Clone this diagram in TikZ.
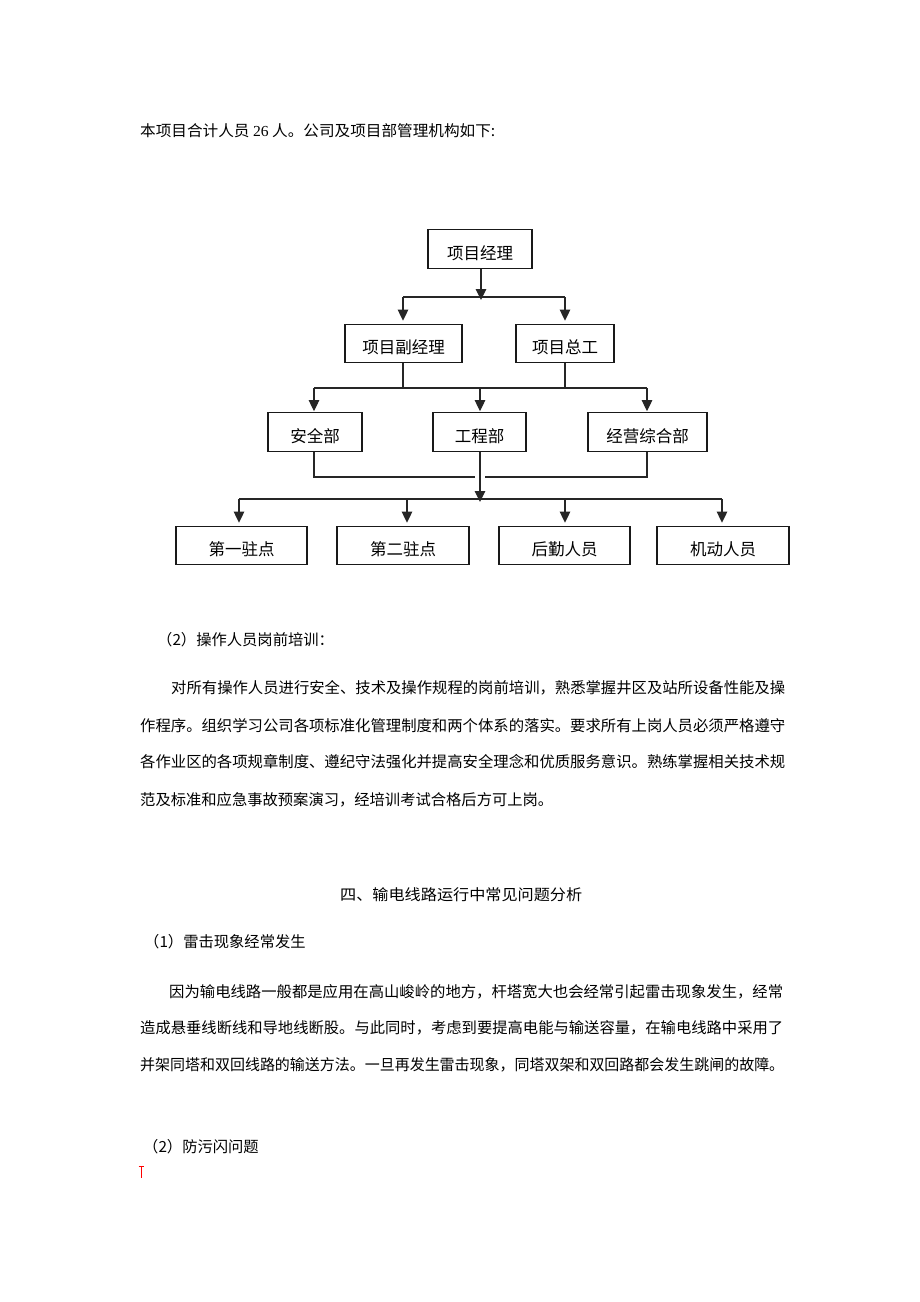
\documentclass[tikz,border=0pt]{standalone}
\usepackage{fontspec}
\usepackage{graphicx}
\usetikzlibrary{arrows.meta}
\newfontfamily\cjk{Noto Sans CJK SC}
\newfontfamily\lat{Liberation Serif}
\newcommand{\fitw}[2]{\resizebox{#1pt}{\height}{#2}}
\newcommand{\bx}[1]{\raisebox{-4pt}[\height][\depth]{#1}}
\begin{document}
\begin{tikzpicture}[x=1pt,y=-1pt,
  box/.style={draw=black!90,line width=1.2pt,inner sep=0pt,minimum height=38.5pt,
    font=\cjk\fontsize{16.5}{18}\selectfont},
  ln/.style={line width=1.1pt,draw=black!85},
  arr/.style={ln,-{Triangle[width=10.5pt,length=11pt]}},
  txt/.style={anchor=west,inner sep=0pt,font=\cjk\fontsize{15.3}{17}\selectfont}]
\useasboundingbox (0,0) rectangle (920,1302);
\fill[white] (0,0) rectangle (920,1302);

% top text
\node[txt] (t0) at (140,131) {\fitw{355}{本项目合计人员 {\lat 26} 人。公司及项目部管理机构如下:}};

% org chart boxes
\node[box,minimum width=104pt] (pm) at (480,249) {\bx{项目经理}};
\node[box,minimum width=117pt] (vice) at (403.5,343.5) {\bx{项目副经理}};
\node[box,minimum width=98pt] (chief) at (565,343.5) {\bx{项目总工}};
\node[box,minimum width=94pt] (safe) at (315,432) {\bx{安全部}};
\node[box,minimum width=93pt] (eng) at (479.5,432) {\bx{工程部}};
\node[box,minimum width=119pt] (biz) at (647.5,432) {\bx{经营综合部}};
\node[box,minimum width=131pt] (s1) at (241.5,545.5) {\bx{第一驻点}};
\node[box,minimum width=132pt] (s2) at (403,545.5) {\bx{第二驻点}};
\node[box,minimum width=131pt] (lg) at (564.5,545.5) {\bx{后勤人员}};
\node[box,minimum width=132pt] (md) at (723,545.5) {\bx{机动人员}};

% level 1 -> 2
\coordinate (j1) at (481,297);
\coordinate (j1l) at (403,297);
\coordinate (j1r) at (565,297);
\draw[arr] (pm.south -| j1) -- ([yshift=-3pt]j1);
\draw[ln] (j1l) -- (j1r);
\draw[arr,shorten >=3pt] (j1l) -- (j1l |- vice.north);
\draw[arr,shorten >=3pt] (j1r) -- (j1r |- chief.north);

% level 2 -> 3
\coordinate (j2l) at (314,388);
\coordinate (j2r) at (647,388);
\coordinate (j2a) at (403,388);
\coordinate (j2b) at (565,388);
\coordinate (j2m) at (480,388);
\draw[ln] (vice.south -| j2a) -- (j2a);
\draw[ln] (chief.south -| j2b) -- (j2b);
\draw[ln] (j2l) -- (j2r);
\draw[arr,shorten >=1pt] (j2l) -- (j2l |- safe.north);
\draw[arr,shorten >=1pt] (j2m) -- (j2m |- eng.north);
\draw[arr,shorten >=1pt] (j2r) -- (j2r |- biz.north);

% level 3 -> 4
\coordinate (j3l) at (314,477);
\coordinate (j3r) at (647,477);
\coordinate (j3a) at (475,477);
\coordinate (j3b) at (485,477);
\draw[ln] (safe.south -| j3l) -- (j3l) -- (j3a);
\draw[ln] (biz.south -| j3r) -- (j3r) -- (j3b);
\coordinate (j4m) at (480,499);
\draw[arr] (eng.south -| j4m) -- ([yshift=-3pt]j4m);
\coordinate (j4l) at (239,499);
\coordinate (j4a) at (407,499);
\coordinate (j4b) at (565,499);
\coordinate (j4r) at (722,499);
\draw[ln] (j4l) -- (j4r);
\draw[arr,shorten >=3pt] (j4l) -- (j4l |- s1.north);
\draw[arr,shorten >=3pt] (j4a) -- (j4a |- s2.north);
\draw[arr,shorten >=3pt] (j4b) -- (j4b |- lg.north);
\draw[arr,shorten >=3pt] (j4r) -- (j4r |- md.north);

% section text
\node[txt] (h1) at (157,640) {（2）操作人员岗前培训：};
\node[txt] (p1a) at (171,688) {\fitw{614}{对所有操作人员进行安全、技术及操作规程的岗前培训，熟悉掌握井区及站所设备性能及操}};
\node[txt] (p1b) at (140,726) {\fitw{645}{作程序。组织学习公司各项标准化管理制度和两个体系的落实。要求所有上岗人员必须严格遵守}};
\node[txt] (p1c) at (140,762) {\fitw{645}{各作业区的各项规章制度、遵纪守法强化并提高安全理念和优质服务意识。熟练掌握相关技术规}};
\node[txt] (p1d) at (140,800) {范及标准和应急事故预案演习，经培训考试合格后方可上岗。};

\node[txt] (h2) at (340,895) {\fitw{242}{四、输电线路运行中常见问题分析}};
\node[txt] (h3) at (144,942) {（1）雷击现象经常发生};
\node[txt] (p2a) at (169,992) {\fitw{614}{因为输电线路一般都是应用在高山峻岭的地方，杆塔宽大也会经常引起雷击现象发生，经常}};
\node[txt] (p2b) at (140,1028) {\fitw{643}{造成悬垂线断线和导地线断股。与此同时，考虑到要提高电能与输送容量，在输电线路中采用了}};
\node[txt] (p2c) at (140,1065) {\fitw{644}{并架同塔和双回线路的输送方法。一旦再发生雷击现象，同塔双架和双回路都会发生跳闸的故障。}};
\node[txt] (h4) at (143,1147) {（2）防污闪问题};

% red mark
\draw[red,line width=1pt] (141,1166) -- (141,1178);
\draw[red,line width=1pt] (138.5,1166) -- (143.5,1166);
\end{tikzpicture}
\end{document}
